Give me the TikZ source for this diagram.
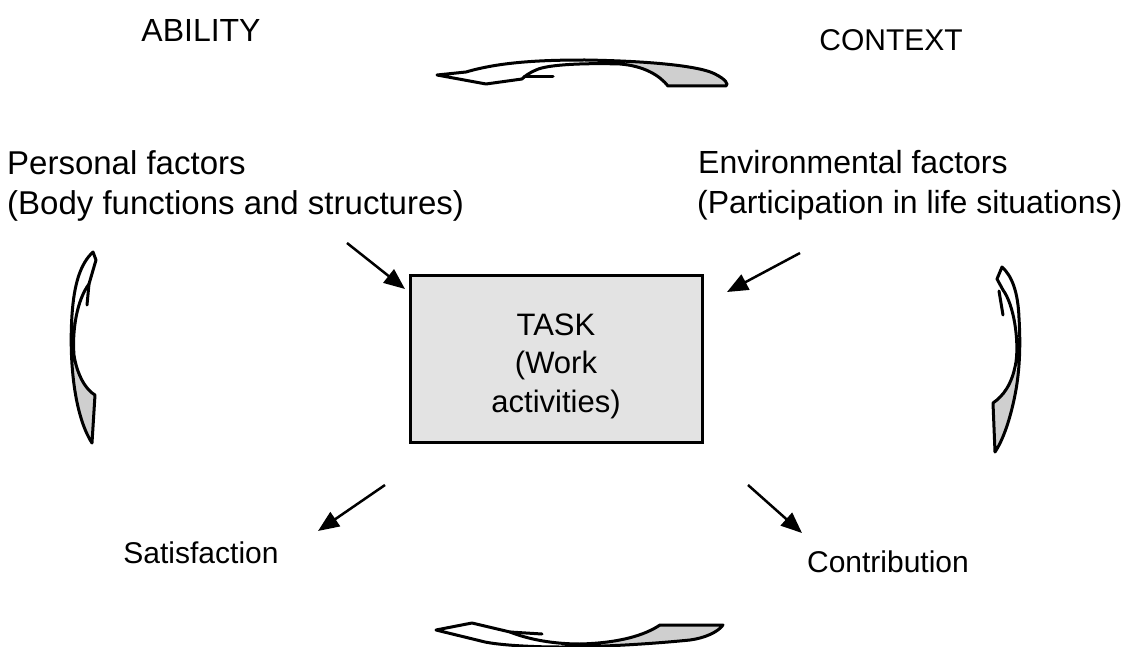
\documentclass[tikz,border=0pt]{standalone}
\usepackage{fontspec}
\setmainfont{Liberation Sans}
\usetikzlibrary{arrows.meta}
\begin{document}
\begin{tikzpicture}[x=1pt, y=-1pt,
  lbl/.style={inner sep=0pt, anchor=base west},
  head/.style={inner sep=0pt, anchor=base},
  taskbox/.style={draw, line width=3pt, fill=gray!22, minimum width=292pt,
    minimum height=167pt, inner sep=0pt},
  tasktext/.style={align=center, inner sep=0pt, font=\fontsize{31}{38.5}\selectfont},
  link/.style={line width=2.5pt, -{Triangle[length=21pt, width=17pt]}},
  cycarrow/.style={draw, line width=3pt, line join=round, fill=white},
  barb/.style={line width=3pt, line cap=round},
  tailshade/.style={fill=gray!38}
]
\useasboundingbox (0,0) rectangle (1130,647);

% headings
\node[head, font=\fontsize{32}{38}\selectfont] (ability) at (201,42) {ABILITY};
\node[head, font=\fontsize{30}{38}\selectfont] (context) at (891,51) {CONTEXT};

% factor labels
\node[lbl, font=\fontsize{33}{38}\selectfont] (pers1) at (7,175) {Personal factors};
\node[lbl, font=\fontsize{33}{38}\selectfont] (pers2) at (7,215) {(Body functions and structures)};
\node[lbl, font=\fontsize{32}{38}\selectfont] (env1) at (698,174) {Environmental factors};
\node[lbl, font=\fontsize{32}{38}\selectfont] (env2) at (697,214) {(Participation in life situations)};

% outcome labels
\node[head, font=\fontsize{30}{38}\selectfont] (satis) at (201,563) {Satisfaction};
\node[head, font=\fontsize{30}{38}\selectfont] (contr) at (888,572) {Contribution};

% central task box
\node[taskbox] (task) at (556,359) {};
\node[tasktext] (tasklbl) at (556,366) {TASK\\(Work\\activities)};

% straight connectors
\coordinate (p-out) at (347,243);
\coordinate (p-in)  at (405,289);
\coordinate (e-out) at (800,253);
\coordinate (e-in)  at (727,292);
\coordinate (s-out) at (385,485);
\coordinate (s-in)  at (318,531);
\coordinate (c-out) at (748,485);
\coordinate (c-in)  at (802,533);
\draw[link] (p-out) -- (p-in);
\draw[link] (e-out) -- (e-in);
\draw[link] (s-out) -- (s-in);
\draw[link] (c-out) -- (c-in);

% upper curved arrow (pointing left)
\path[cycarrow, path picture={\fill[tailshade] (616,40) rectangle (740,100);}]
  (437,75) -- (466,72) .. controls (500,62) and (540,60) .. (585,60)
  .. controls (650,61) and (700,66) .. (715,74)
  .. controls (725,79) and (729,84) .. (726,86) -- (668,86)
  .. controls (660,76) and (645,66) .. (620,64)
  .. controls (590,63) and (548,64) .. (536,70)
  .. controls (529,73) and (525,76) .. (522,79) -- (486,84) -- cycle;
\draw[barb] (524,77) -- (553,77);

% lower curved arrow (pointing left)
\path[cycarrow, path picture={\fill[tailshade] (603,600) rectangle (740,660);}]
  (436,630) -- (472,623) -- (510,632)
  .. controls (530,640) and (555,644) .. (580,644)
  .. controls (620,643) and (645,635) .. (660,625) -- (723,625)
  .. controls (718,632) and (705,638) .. (690,640)
  .. controls (650,644) and (600,647) .. (560,647)
  .. controls (530,647) and (500,645) .. (485,642) -- cycle;
\draw[barb] (510,632) -- (542,634);

% left curved arrow (pointing up)
\path[cycarrow, path picture={\fill[tailshade] (60,362) rectangle (110,460);}]
  (93,252) .. controls (80,264) and (74,285) .. (72,315)
  .. controls (69,360) and (74,415) .. (92,443) -- (95,395)
  .. controls (86,390) and (77,375) .. (74,355)
  .. controls (72,330) and (77,300) .. (89,284) -- (96,260) -- cycle;
\draw[barb] (89,284) -- (87,305);

% right curved arrow (pointing up)
\path[cycarrow, path picture={\fill[tailshade] (980,370) rectangle (1030,460);}]
  (1002,267) .. controls (1012,276) and (1018,292) .. (1019,318)
  .. controls (1021,350) and (1019,375) .. (1015,395)
  .. controls (1010,420) and (1003,440) .. (995,452) -- (993,403)
  .. controls (1003,396) and (1012,385) .. (1016,362)
  .. controls (1019,340) and (1014,305) .. (1003,290) -- (997,279) -- cycle;
\draw[barb] (999,291) -- (1003,315);
\end{tikzpicture}
\end{document}
